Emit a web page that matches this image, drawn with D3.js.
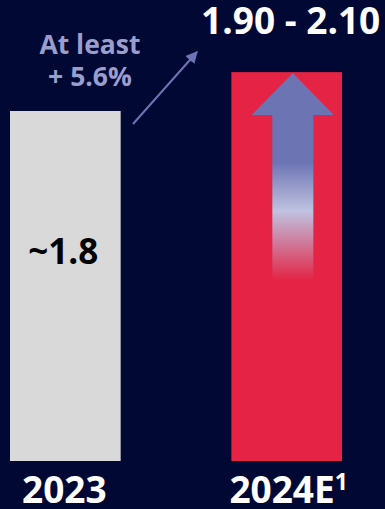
<!DOCTYPE html>
<html>
<head>
<meta charset="utf-8">
<script src="https://cdn.jsdelivr.net/npm/d3@7"></script>
<style>
  html, body { margin: 0; padding: 0; background: #010833; }
  svg { display: block; font-family: "Open Sans", "Noto Sans", sans-serif; }
</style>
</head>
<body>
<figure id="chart" style="margin:0"></figure>
<script>
const categories = ["2023", "2024E"];
const values = [1.8, 2.0];
const valueLabels = ["~1.8", "1.90 - 2.10"];
const growthLines = ["At least", "+ 5.6%"];
const footnote = "1";

const width = 385, height = 509;
const bg = "#010833";
const barColors = ["#d9d9d9", "#e42345"];
const arrowColor = "#6c74b4";

const svg = d3.select("figure#chart").append("svg")
  .attr("width", width)
  .attr("height", height)
  .attr("viewBox", `0 0 ${width} ${height}`);

svg.append("rect").attr("width", width).attr("height", height).attr("fill", bg);

const x = d3.scaleBand().domain(categories).range([10, 342]).paddingInner(0.5).paddingOuter(0);
const y = d3.scaleLinear().domain([0, 1.8]).range([461, 111]);

const defs = svg.append("defs");

// gradient for the up-arrow in the forecast bar
const grad = defs.append("linearGradient")
  .attr("id", "arrowGrad")
  .attr("x1", 0).attr("y1", 0).attr("x2", 0).attr("y2", 1);
grad.append("stop").attr("offset", 0).attr("stop-color", arrowColor);
grad.append("stop").attr("offset", 0.42).attr("stop-color", arrowColor);
grad.append("stop").attr("offset", 0.65).attr("stop-color", "#bfc2e0");
grad.append("stop").attr("offset", 0.98).attr("stop-color", barColors[1]);

defs.append("marker")
  .attr("id", "head")
  .attr("viewBox", "0 0 10 10")
  .attr("refX", 9).attr("refY", 5)
  .attr("markerWidth", 6).attr("markerHeight", 6)
  .attr("markerUnits", "strokeWidth")
  .attr("orient", "auto")
  .append("path")
  .attr("d", "M0,0 L10,5 L0,10 Z")
  .attr("fill", arrowColor);

// bars
svg.selectAll(".bar")
  .data(categories)
  .join("rect")
  .attr("class", "bar")
  .attr("x", d => x(d))
  .attr("y", (d, i) => y(values[i]))
  .attr("width", x.bandwidth())
  .attr("height", (d, i) => y(0) - y(values[i]))
  .attr("fill", (d, i) => barColors[i]);

// up arrow inside 2024E bar
const bx = x(categories[1]) + 61.5;
const tipY = y(values[1]) + 1;
const headW = 41, shaftW = 20.5, headH = 42, arrowLen = 212;
const arrowPath = d3.path();
arrowPath.moveTo(bx, tipY);
arrowPath.lineTo(bx + headW, tipY + headH);
arrowPath.lineTo(bx + shaftW, tipY + headH);
arrowPath.lineTo(bx + shaftW, tipY + arrowLen);
arrowPath.lineTo(bx - shaftW, tipY + arrowLen);
arrowPath.lineTo(bx - shaftW, tipY + headH);
arrowPath.lineTo(bx - headW, tipY + headH);
arrowPath.closePath();
svg.append("path")
  .attr("d", arrowPath.toString())
  .attr("fill", "url(#arrowGrad)");

// value inside 2023 bar
svg.append("text")
  .attr("x", x(categories[0]) + x.bandwidth() / 2 - 2)
  .attr("y", y(values[0]) + 153)
  .attr("text-anchor", "middle")
  .attr("font-size", 35)
  .attr("font-weight", 700)
  .attr("fill", "#000")
  .text(valueLabels[0]);

// forecast range above
svg.append("text")
  .attr("x", x(categories[1]) + x.bandwidth() / 2 + 4)
  .attr("y", 34)
  .attr("text-anchor", "middle")
  .attr("font-size", 37)
  .attr("font-weight", 700)
  .attr("fill", "#fff")
  .text(valueLabels[1]);

// growth annotation
svg.append("text")
  .attr("x", 90)
  .attr("y", 54)
  .attr("text-anchor", "middle")
  .attr("font-size", 26.5)
  .attr("font-weight", 700)
  .attr("fill", "#9a9ecd")
  .selectAll("tspan")
  .data(growthLines)
  .join("tspan")
  .attr("x", 90)
  .attr("dy", (d, i) => i === 0 ? 0 : 32)
  .text(d => d);

svg.append("line")
  .attr("x1", 133).attr("y1", 124)
  .attr("x2", 197).attr("y2", 52)
  .attr("stroke", arrowColor)
  .attr("stroke-width", 2)
  .attr("marker-end", "url(#head)");

// category labels
const labels = svg.selectAll(".cat")
  .data(categories)
  .join("text")
  .attr("class", "cat")
  .attr("x", (d, i) => x(d) + x.bandwidth() / 2 + (i === 0 ? -1 : 2))
  .attr("y", 503)
  .attr("text-anchor", "middle")
  .attr("font-size", 37)
  .attr("font-weight", 700)
  .attr("fill", "#fff");
labels.append("tspan").text(d => d);
labels.filter((d, i) => i === 1)
  .append("tspan")
  .attr("font-size", 23)
  .attr("dy", -13)
  .text(footnote);
</script>
</body>
</html>
